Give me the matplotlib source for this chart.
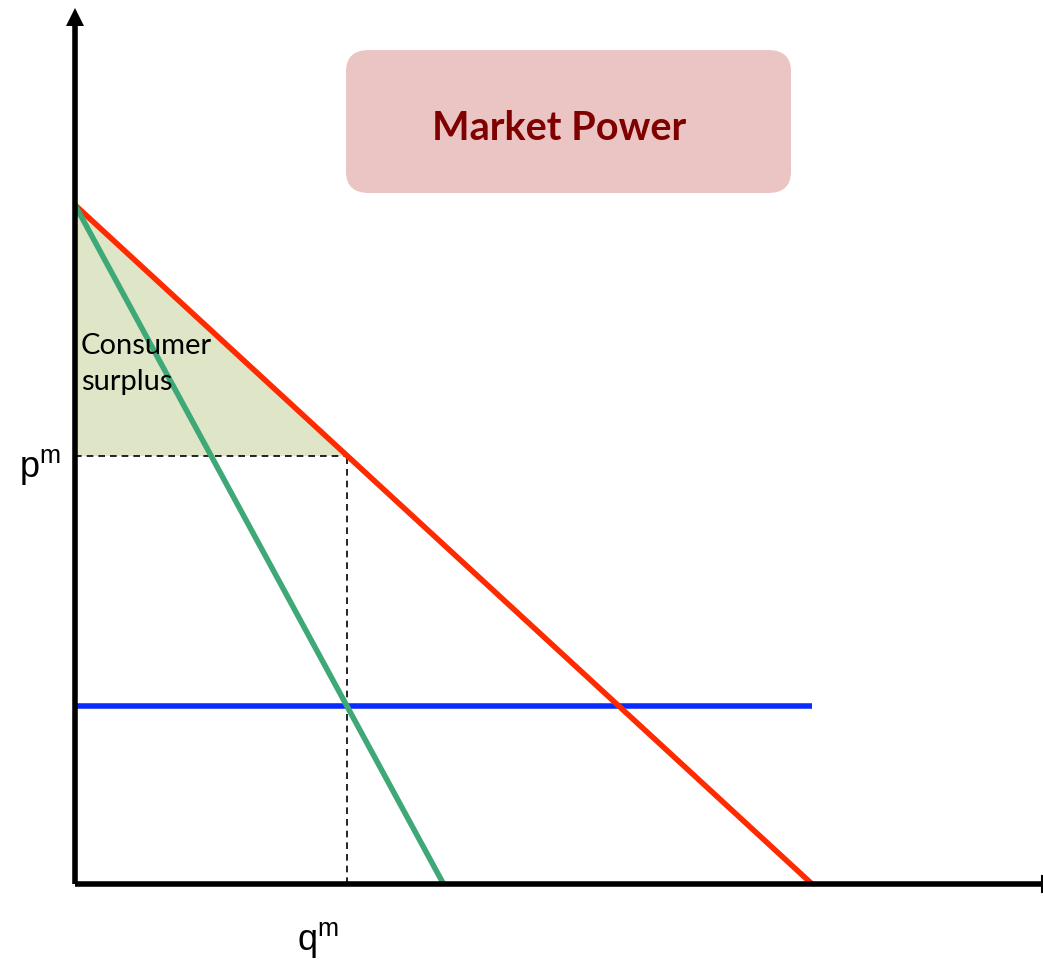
import matplotlib
matplotlib.use("Agg")
import matplotlib.pyplot as plt
from matplotlib.patches import FancyBboxPatch, Polygon

# Data (economic model in abstract units)
demand_q = [0.0, 10.0]
demand_p = [10.0, 0.0]
mr_q = [0.0, 5.0]
mr_p = [10.0, 0.0]
mc_q = [0.0, 10.0]
mc_p = [2.62, 2.62]
q_m = 3.69
p_m = 6.31
title_text = "Market Power"
cs_label = "Consumer\nsurplus"

W, H = 1043, 966
fig = plt.figure(figsize=(W / 100, H / 100), dpi=100)
ax = fig.add_axes([75 / W, (H - 884) / H, (W - 75) / W, (884 - 8) / H])
xmax = (W - 75) / 73.7
ymax = (884 - 8) / 67.9
ax.set_xlim(0, xmax)
ax.set_ylim(0, ymax)
ax.axis("off")

# consumer surplus
ax.add_patch(Polygon([[0, demand_p[0]], [0, p_m], [q_m, p_m]], closed=True,
                     facecolor="#dfe6c8", edgecolor="none", zorder=1))

# dashed guides
ax.plot([0, q_m], [p_m, p_m], color="black", lw=1.2, ls=(0, (4, 3)), zorder=2)
ax.plot([q_m, q_m], [0, p_m], color="black", lw=1.2, ls=(0, (4, 3)), zorder=2)

# curves
ax.plot(mc_q, mc_p, color="#0a2bff", lw=4, solid_capstyle="butt", zorder=3)
ax.plot(demand_q, demand_p, color="#ff2a00", lw=4, solid_capstyle="butt", zorder=4)
ax.plot(mr_q, mr_p, color="#3fa877", lw=4, solid_capstyle="butt", zorder=5)

# axes
head_h = 18 / 67.9
head_w = 9 / 73.7
ax.plot([0, xmax], [0, 0], color="black", lw=4, solid_capstyle="butt", zorder=6, clip_on=False)
ax.plot([xmax - 0.02, xmax - 0.02], [-0.12, 0.12], color="black", lw=1.5, zorder=6, clip_on=False)
ax.plot([0, 0], [0, ymax - head_h + 0.05], color="black", lw=4, solid_capstyle="butt", zorder=6, clip_on=False)
ax.add_patch(Polygon([[-head_w, ymax - head_h], [head_w, ymax - head_h], [0, ymax]], closed=True,
                     facecolor="black", edgecolor="none", zorder=7, clip_on=False))

# labels
fig.text(19 / W, 1 - 467 / H, "p$^{\\mathregular{m}}$", fontsize=26, family="Liberation Sans",
         ha="left", va="center")
fig.text(318 / W, 1 - 940 / H, "q$^{\\mathregular{m}}$", fontsize=26, family="Liberation Sans",
         ha="center", va="center")
fig.text(81 / W, 1 - 364 / H, cs_label, fontsize=21, family="Lato", ha="left", va="center",
         linespacing=1.5)

# title box
box = FancyBboxPatch((346 / W, 1 - 193 / H), (791 - 346) / W, (193 - 50) / H,
                     boxstyle="round,pad=0,rounding_size=0.022", transform=fig.transFigure,
                     facecolor="#ebc5c4", edgecolor="none")
fig.patches.append(box)
fig.text(559 / W, 1 - 129 / H, title_text, fontsize=28.5, family="Lato", fontweight="bold",
         color="#7f0000", ha="center", va="center")

fig.savefig("out.png", dpi=100)
